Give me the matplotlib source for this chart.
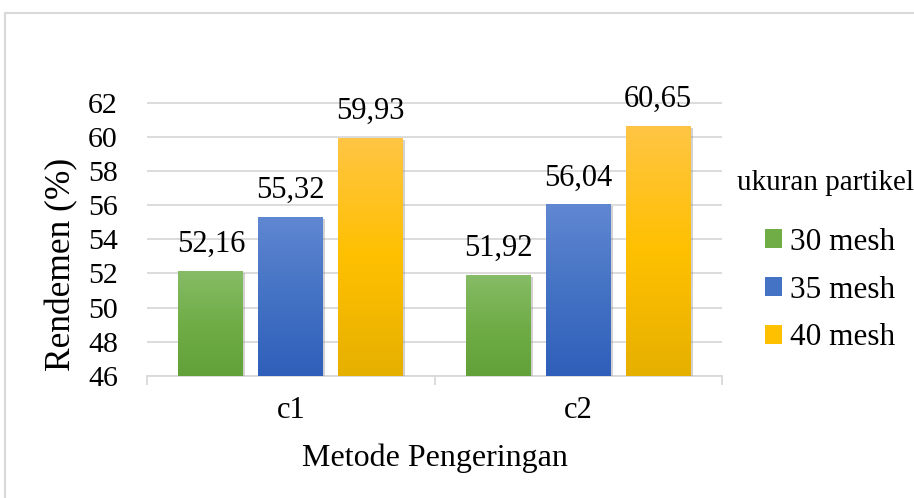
import numpy as np
import matplotlib
matplotlib.use("Agg")
import matplotlib.pyplot as plt
from matplotlib.patches import Rectangle, Patch
from matplotlib.colors import LinearSegmentedColormap
import matplotlib.patheffects as pe

# Data
methods = ["c1", "c2"]
series_names = ["30 mesh", "35 mesh", "40 mesh"]
yield_30 = [52.16, 51.92]
yield_35 = [55.32, 56.04]
yield_40 = [59.93, 60.65]
y_ticks = [46, 48, 50, 52, 54, 56, 58, 60, 62]

# Gradient stops per series: top, middle, bottom
grad_colors = [
    ["#87bc67", "#70ad47", "#62a03a"],
    ["#6087d2", "#4472c4", "#2f5fba"],
    ["#ffc545", "#ffc000", "#e6b000"],
]
base_colors = ["#70ad47", "#4472c4", "#ffc000"]

plt.rcParams["font.family"] = ["Liberation Serif", "DejaVu Serif"]

W, H = 914, 498
fig = plt.figure(figsize=(W / 100, H / 100), dpi=100)

# Axes rectangle in pixels
ax_l, ax_r, ax_t, ax_b = 147, 722, 102.5, 376
ax = fig.add_axes([ax_l / W, 1 - ax_b / H, (ax_r - ax_l) / W, (ax_b - ax_t) / H])

ymin, ymax = y_ticks[0], y_ticks[-1]
ax.set_ylim(ymin, ymax)
ax.set_xlim(-0.5, len(methods) - 0.5)

x = np.arange(len(methods))
bar_w = 0.226
step = 0.278
all_series = [yield_30, yield_35, yield_40]

for i, vals in enumerate(all_series):
    offs = (i - 1) * step
    vals = np.asarray(vals)
    bars = ax.bar(x + offs, vals - ymin, bottom=ymin, width=bar_w,
                  color=base_colors[i], zorder=3,
                  path_effects=[pe.SimplePatchShadow(offset=(1.5, -1.5),
                                                     shadow_rgbFace="#7f7f7f",
                                                     alpha=0.35),
                                pe.Normal()])
    cmap = LinearSegmentedColormap.from_list("g%d" % i, grad_colors[i][::-1])
    grad = np.linspace(0, 1, 256).reshape(-1, 1)
    for b, v in zip(bars, vals):
        x0 = b.get_x()
        x1 = x0 + b.get_width()
        im = ax.imshow(grad, cmap=cmap, origin="lower", aspect="auto",
                       extent=(x0, x1, ymin, v), zorder=4, interpolation="bilinear")
        im.set_clip_path(b)
        ax.annotate(f"{v:.2f}".replace(".", ","), xy=(b.get_x() + b.get_width() / 2, v),
                    xytext=(0, 13.5), textcoords="offset points",
                    ha="center", va="baseline", fontsize=22, color="#000000", zorder=5)

ax.set_xlim(-0.5, len(methods) - 0.5)
ax.set_ylim(ymin, ymax)

# Grid and spines
ax.set_yticks(y_ticks)
ax.set_yticklabels([str(t) for t in y_ticks], fontsize=21.5)
ax.yaxis.grid(True, color="#d9d9d9", linewidth=1.3, zorder=0)
ax.set_axisbelow(True)
for s in ["top", "right", "left"]:
    ax.spines[s].set_visible(False)
ax.spines["bottom"].set_color("#d9d9d9")
ax.spines["bottom"].set_linewidth(1.3)
ax.tick_params(axis="y", length=0, pad=21, labelcolor="#000000")

# Category boundary ticks and centred category labels
ax.set_xticks([-0.5, 0.5, 1.5])
ax.set_xticklabels(["", "", ""])
ax.tick_params(axis="x", which="major", length=6.5, width=1.3, color="#d9d9d9", direction="out")
ax.set_xticks(x, minor=True)
ax.set_xticklabels(methods, minor=True, fontsize=22)
ax.tick_params(axis="x", which="minor", length=0, pad=14.5)

ax.set_xlabel("Metode Pengeringan", fontsize=23)
ax.xaxis.label.set_va("baseline")
ax.xaxis.set_label_coords(0.5, -(466 - ax_b) / (ax_b - ax_t))

ax.set_ylabel("Rendemen (%)", fontsize=25.5)
ax.yaxis.label.set(ha="center", va="center", rotation_mode="default")
ax.yaxis.set_label_coords((62 - ax_l) / (ax_r - ax_l), (ax_b - 264) / (ax_b - ax_t))

# Legend
fig.text(737 / W, 1 - 183 / H, "ukuran partikel", fontsize=21, ha="left", va="center")
handles = [Patch(facecolor=c, edgecolor="none") for c in base_colors]
fig.legend(handles, series_names, loc="center left",
           bbox_to_anchor=(765 / W, 1 - 290 / H), frameon=False, fontsize=22.5,
           handlelength=0.55, handleheight=0.55, handletextpad=0.25,
           labelspacing=0.6, borderpad=0, borderaxespad=0)

# Chart border
fig.patches.append(Rectangle((4.5 / W, -0.1), 1.2, 1.1 - 13.5 / H,
                             transform=fig.transFigure, fill=False,
                             edgecolor="#d9d9d9", linewidth=1.5))

fig.savefig("out.png", dpi=100, facecolor="white")
